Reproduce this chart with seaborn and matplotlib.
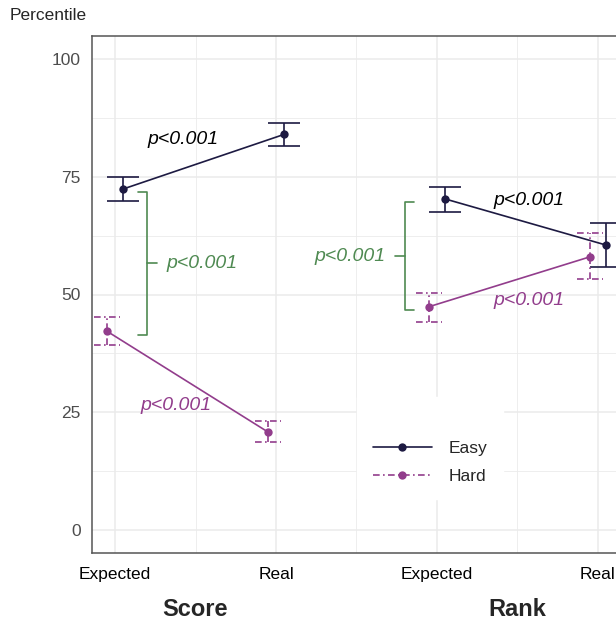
import pandas as pd
import matplotlib.pyplot as plt
import seaborn as sns
from matplotlib.lines import Line2D
from matplotlib.ticker import MultipleLocator

# data
measures = ['Score', 'Rank']
kinds = ['Expected', 'Real']
difficulties = ['Easy', 'Hard']
easy_mean = [72.4, 84.0, 70.3, 60.5]
easy_lo = [69.9, 81.6, 67.5, 55.9]
easy_hi = [75.0, 86.5, 72.9, 65.1]
hard_mean = [42.2, 20.8, 47.4, 58.0]
hard_lo = [39.2, 18.6, 44.2, 53.2]
hard_hi = [45.2, 23.2, 50.3, 63.0]
p_label = 'p<0.001'

colors = {'Easy': '#1d1a42', 'Hard': '#923d8c'}
green = '#4f8a52'
dashdot = (0, (4, 2, 1, 2))

rows = []
for d, means, los, his, off in [('Easy', easy_mean, easy_lo, easy_hi, 0.05),
                                ('Hard', hard_mean, hard_lo, hard_hi, -0.05)]:
    i = 0
    for m in measures:
        for k in kinds:
            rows.append({'difficulty': d, 'measure': m, 'kind': k,
                         'pos': i + 1, 'xpos': i + 1 + off,
                         'mean': means[i], 'lo': los[i], 'hi': his[i]})
            i += 1
df = pd.DataFrame(rows)

sns.set_theme(style='whitegrid')
plt.rcParams['font.family'] = ['Liberation Sans', 'DejaVu Sans']

fig = plt.figure(figsize=(6.16, 6.21), dpi=100)
ax = fig.add_axes([92 / 616, 68 / 621, 524 / 616, 517 / 621])
ax.set_facecolor('white')

# error bars
for d, cap, ls in [('Easy', 0.1, 'solid'), ('Hard', 0.08, dashdot)]:
    sub = df[df['difficulty'] == d]
    ax.vlines(sub['xpos'], sub['lo'], sub['hi'], colors=colors[d], linestyles=ls, lw=1.2, zorder=3)
    for col in ['lo', 'hi']:
        ax.hlines(sub[col], sub['xpos'] - cap, sub['xpos'] + cap, colors=colors[d],
                  linestyles=ls, lw=1.2, zorder=3)

sns.lineplot(data=df, x='xpos', y='mean', hue='difficulty', units='measure', estimator=None,
             palette=colors, marker='o', markersize=6, markeredgewidth=0, linewidth=1.2,
             legend=False, ax=ax, zorder=4)

# brackets between Easy and Hard on the Expected condition
for m, side in [('Score', 1), ('Rank', -1)]:
    e = df[(df['difficulty'] == 'Easy') & (df['measure'] == m) & (df['kind'] == 'Expected')].iloc[0]
    h = df[(df['difficulty'] == 'Hard') & (df['measure'] == m) & (df['kind'] == 'Expected')].iloc[0]
    xv = e['pos'] + side * 0.2
    top, bot = e['mean'] - 0.7, h['mean'] - 0.7
    mid = (top + bot) / 2
    ax.plot([xv - side * 0.06, xv, xv, xv - side * 0.06], [top, top, bot, bot], color=green, lw=1.2)
    ax.plot([xv, xv + side * 0.06], [mid, mid], color=green, lw=1.2)
    ax.text(xv + side * 0.12, mid, p_label, color=green, style='italic', fontsize=14,
            ha='left' if side > 0 else 'right', va='center')

# p-values for Expected vs Real
for m, base in [('Score', 1), ('Rank', 3)]:
    e = df[(df['difficulty'] == 'Easy') & (df['measure'] == m)]
    h = df[(df['difficulty'] == 'Hard') & (df['measure'] == m)]
    if m == 'Score':
        ax.text(base + 0.42, e['mean'].mean() + 4.8, p_label, color='black', style='italic',
                fontsize=14, ha='center', va='center')
        ax.text(base + 0.38, h['mean'].mean() - 5, p_label, color=colors['Hard'], style='italic',
                fontsize=14, ha='center', va='center')
    else:
        ax.text(base + 0.57, e['mean'].mean() + 4.6, p_label, color='black', style='italic',
                fontsize=14, ha='center', va='center')
        ax.text(base + 0.57, h['mean'].mean() - 4, p_label, color=colors['Hard'], style='italic',
                fontsize=14, ha='center', va='center')

ax.set_xlim(0.857, 4.112)
ax.set_ylim(-4.9, 104.9)
ax.set_xticks([1, 2, 3, 4])
ax.set_xticklabels(kinds * 2)
ax.set_yticks([0, 25, 50, 75, 100])
ax.xaxis.set_minor_locator(MultipleLocator(0.5))
ax.yaxis.set_minor_locator(MultipleLocator(12.5))
ax.grid(which='major', color='#ebebeb', lw=1.1)
ax.grid(which='minor', color='#ebebeb', lw=0.6)
ax.set_axisbelow(True)
ax.set_xlabel('')
ax.set_ylabel('')
ax.tick_params(axis='both', which='major', length=4, width=1, color='#333333', labelsize=12.5)
ax.tick_params(axis='both', which='minor', length=0)
ax.tick_params(axis='y', pad=4, labelcolor='#4d4d4d')
ax.tick_params(axis='x', pad=6, labelcolor='black')
for s in ['left', 'bottom', 'top']:
    ax.spines[s].set_color('#555555')
    ax.spines[s].set_linewidth(1.1)
ax.spines['right'].set_visible(False)

for m, xc in zip(measures, [1.5, 3.5]):
    ax.text(xc, -56 / 517, m, transform=ax.get_xaxis_transform(), ha='center', va='center',
            fontsize=17, fontweight='bold')

fig.text(10 / 616, 1 - 15 / 621, 'Percentile', ha='left', va='center', fontsize=12.5)

handles = [Line2D([0], [0], color=colors['Easy'], lw=1.2, marker='o', markersize=6, markeredgewidth=0),
           Line2D([0], [0], color=colors['Hard'], lw=1.2, ls=dashdot, marker='o', markersize=6,
                  markeredgewidth=0)]
leg = ax.legend(handles, difficulties, title=' ', title_fontsize=12, loc='upper left',
                bbox_to_anchor=(0.5057, 0.302), fontsize=12.5,
                frameon=True, facecolor='white', edgecolor='white', framealpha=1, fancybox=False,
                handlelength=3.4, handletextpad=1.0, labelspacing=0.75, borderpad=0.9,
                borderaxespad=0)
leg.set_zorder(10)

fig.savefig('out.png', dpi=100)
